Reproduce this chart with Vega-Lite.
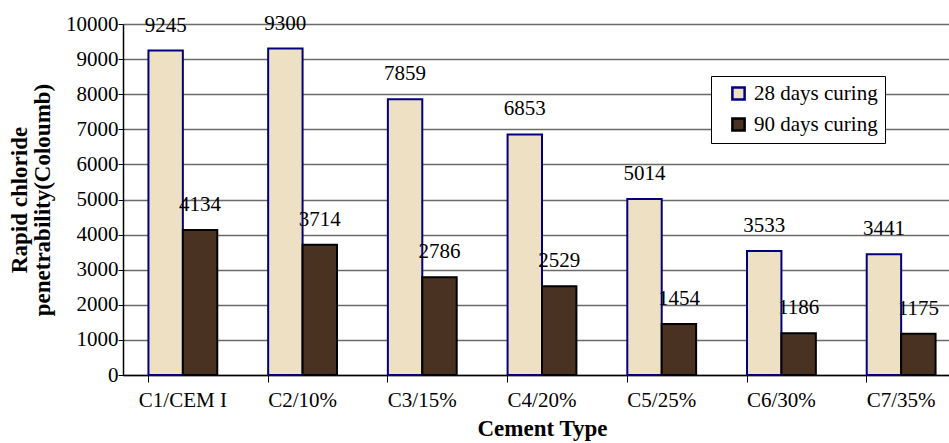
{
  "$schema": "https://vega.github.io/schema/vega-lite/v6.json",
  "width": 838,
  "height": 351,
  "autosize": {"type": "none"},
  "padding": {"left": 123, "top": 24, "right": 0, "bottom": 68},
  "background": "white",
  "config": {
    "font": "Liberation Serif",
    "view": {"stroke": null},
    "axis": {"labelColor": "black", "titleColor": "black", "labelFont": "Liberation Serif", "titleFont": "Liberation Serif"},
    "legend": {"labelFont": "Liberation Serif"}
  },
  "data": {
    "values": [
      {"cement": "C1/CEM I", "series": "28 days curing", "value": 9245},
      {"cement": "C1/CEM I", "series": "90 days curing", "value": 4134},
      {"cement": "C2/10%", "series": "28 days curing", "value": 9300},
      {"cement": "C2/10%", "series": "90 days curing", "value": 3714},
      {"cement": "C3/15%", "series": "28 days curing", "value": 7859},
      {"cement": "C3/15%", "series": "90 days curing", "value": 2786},
      {"cement": "C4/20%", "series": "28 days curing", "value": 6853},
      {"cement": "C4/20%", "series": "90 days curing", "value": 2529},
      {"cement": "C5/25%", "series": "28 days curing", "value": 5014},
      {"cement": "C5/25%", "series": "90 days curing", "value": 1454},
      {"cement": "C6/30%", "series": "28 days curing", "value": 3533},
      {"cement": "C6/30%", "series": "90 days curing", "value": 1186},
      {"cement": "C7/35%", "series": "28 days curing", "value": 3441},
      {"cement": "C7/35%", "series": "90 days curing", "value": 1175}
    ]
  },
  "encoding": {
    "x": {
      "field": "cement",
      "type": "nominal",
      "sort": null,
      "scale": {"paddingInner": 0.425, "paddingOuter": 0.2125},
      "axis": {
        "title": "Cement Type",
        "titleFontSize": 23,
        "titleFontWeight": "bold",
        "titlePadding": 7,
        "labelFontSize": 21,
        "labelAngle": 0,
        "labelPadding": 7,
        "tickSize": 7,
        "tickColor": "black",
        "tickWidth": 1,
        "bandPosition": 0,
        "domainColor": "black",
        "domainWidth": 1.5,
        "grid": false
      }
    },
    "xOffset": {"field": "series", "type": "nominal", "sort": ["28 days curing", "90 days curing"]},
    "y": {
      "field": "value",
      "type": "quantitative",
      "scale": {"domain": [0, 10000], "nice": false},
      "axis": {
        "title": ["Rapid chloride", "penetrability(Coloumb)"],
        "titleFontSize": 23,
        "titleFontWeight": "bold",
        "titleAngle": -90,
        "titleBaseline": "middle",
        "titleAlign": "center",
        "titleX": -104,
        "titleY": 175.5,
        "titleLineHeight": 23,
        "values": [0, 1000, 2000, 3000, 4000, 5000, 6000, 7000, 8000, 9000, 10000],
        "format": "d",
        "labelFontSize": 21,
        "labelPadding": 0,
        "tickSize": 5,
        "tickColor": "black",
        "domainColor": "black",
        "domainWidth": 1.5,
        "grid": true,
        "gridColor": "#6a6a6a",
        "gridWidth": 1.5
      }
    }
  },
  "layer": [
    {
      "mark": {"type": "bar", "strokeWidth": 2},
      "encoding": {
        "fill": {
          "field": "series",
          "type": "nominal",
          "scale": {"domain": ["28 days curing", "90 days curing"], "range": ["#EEE0C2", "#4A3222"]},
          "legend": {
            "title": null,
            "orient": "none",
            "legendX": 588,
            "legendY": 52,
            "fillColor": "white",
            "strokeColor": "black",
            "padding": 7,
            "symbolOffset": 10,
            "labelFontSize": 21,
            "labelColor": "black",
            "labelOffset": 5,
            "labelExpr": "datum.label + '\u2002\u2002\u2002\u2002'",
            "symbolType": "square",
            "symbolSize": 150,
            "symbolStrokeWidth": 2.5,
            "rowPadding": 8
          }
        },
        "stroke": {
          "field": "series",
          "type": "nominal",
          "scale": {"domain": ["28 days curing", "90 days curing"], "range": ["#00007F", "#000000"]},
          "legend": {
            "title": null,
            "orient": "none",
            "legendX": 588,
            "legendY": 52,
            "fillColor": "white",
            "strokeColor": "black",
            "padding": 7,
            "symbolOffset": 10,
            "labelFontSize": 21,
            "labelColor": "black",
            "labelOffset": 5,
            "labelExpr": "datum.label + '\u2002\u2002\u2002\u2002'",
            "symbolType": "square",
            "symbolSize": 150,
            "symbolStrokeWidth": 2.5,
            "rowPadding": 8
          }
        }
      }
    },
    {
      "mark": {"type": "text", "baseline": "alphabetic", "dy": -19, "fontSize": 21, "color": "black"},
      "encoding": {"text": {"field": "value", "type": "quantitative", "format": "d"}}
    }
  ]
}
